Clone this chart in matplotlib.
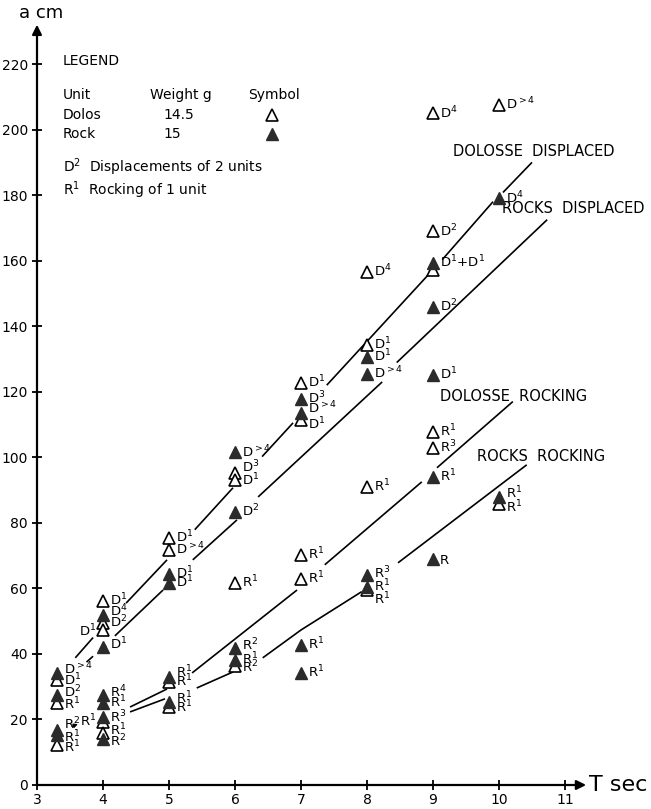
import matplotlib
matplotlib.use('Agg')
import matplotlib.pyplot as plt
import numpy as np

plt.rcParams['font.family'] = ['DejaVu Sans']
plt.rcParams['mathtext.fontset'] = 'dejavusans'

nan = np.nan

# ---------------- data ----------------
# Dolos (open triangles)
dolos_T = [3.3, 3.3, 3.3,
           4, 4, 4, 4, 4,
           5, 5, 5, 5,
           6, 6, 6, 6,
           7, 7, 7, 7,
           8, 8, 8, 8,
           9, 9, 9, 9, 9,
           10, 10]
dolos_a = [32, 25, 12.2,
           56.2, 49.5, 47.3, 19.3, 16,
           75.4, 71.8, 31.5, 23.8,
           95.2, 93, 61.7, 36.3,
           122.7, 111.5, 70.2, 62.9,
           156.6, 134.4, 91, 59.5,
           205, 168.9, 157.3, 107.8, 102.9,
           207.5, 85.8]
dolos_lab = ['D1', 'R1', 'R1',
             'D1', 'D2', 'D1', 'R1', 'R1',
             'D1', 'D>4', 'R1', 'R1',
             'D3', 'D1', 'R1', 'R2',
             'D1', 'D1', 'R1', 'R1',
             'D4', 'D1', 'R1', 'R1',
             'D4', 'D2', '', 'R1', 'R3',
             'D>4', 'R1']

# Rock (filled triangles)
rock_T = [3.3, 3.3, 3.3, 3.3,
          4, 4, 4, 4, 4, 4,
          5, 5, 5, 5,
          6, 6, 6, 6,
          7, 7, 7, 7,
          8, 8, 8, 8,
          9, 9, 9, 9, 9,
          10, 10]
rock_a = [34.2, 27.5, 16.8, 15.3,
          52, 42, 27.5, 25, 20.8, 14,
          64.5, 61.7, 33, 25.3,
          101.5, 83.4, 41.8, 38.2,
          117.9, 113.6, 42.7, 34.2,
          130.7, 125.5, 64.1, 60.5,
          159.4, 146, 125.2, 94, 69,
          179, 88]
rock_lab = ['D>4', 'D2', 'R2', 'R1',
            'D4', 'D1', 'R4', 'R1', 'R3', 'R2',
            'D1', 'D1', 'R1', 'R1',
            'D>4', 'D2', 'R2', 'R1',
            'D3', 'D>4', 'R1', 'R1',
            'D1', 'D>4', 'R3', 'R1',
            'D1+D1', 'D2', 'D1', 'R1', 'R',
            'D4', 'R1']

# fitted curves (NaN = break in the drawn line)
dd_T = [3.58, 3.85, nan, 4.35, 4.97, nan, 5.39, 5.97, nan, 6.41, 6.88, nan,
        7.39, 8.92, nan, 9.14, 9.91, nan, 10.06, 10.5]
dd_a = [38.8, 45, nan, 55.5, 68.7, nan, 77.9, 90.7, nan, 100.2, 110.5, nan,
        122, 155.5, nan, 160.3, 178, nan, 180.8, 190]

rd_T = [3.75, 3.85, nan, 3.93, 4.05, nan, 4.18, 4.91, nan, 5.36, 6.03, nan,
        6.35, 8.23, nan, 8.45, 10.73]
rd_a = [37.5, 39.3, nan, 40.5, 42.5, nan, 45.5, 59.5, nan, 68.7, 80.9, nan,
        87.9, 123, nan, 128.9, 172.5]

dr_T = [4.41, 4.97, nan, 5.35, 6.94, nan, 7.36, 8.83, nan, 9.06, 10.21]
dr_a = [23.8, 29.3, nan, 34.2, 59.5, nan, 67.2, 92.5, nan, 96.8, 117]

rr_T = [4.41, 4.94, nan, 5.42, 5.97, nan, 6.42, 7.0, 7.92, nan, 8.47, 10.42]
rr_a = [22.3, 26.3, nan, 29.6, 34.5, nan, 38.8, 47.3, 59, nan, 67.8, 97.7]

curve_names = ['DOLOSSE  DISPLACED', 'ROCKS  DISPLACED', 'DOLOSSE  ROCKING', 'ROCKS  ROCKING']
curve_name_pos = [(9.30, 193.2), (10.05, 175.8), (9.11, 118.4), (9.67, 100.1)]

x_ticks = [3, 4, 5, 6, 7, 8, 9, 10, 11]
y_ticks = list(range(0, 221, 20))

# labels placed to the left of marker
left_labels = {('dolos', 5), ('dolos', 6)}
# small vertical nudges of labels (data units)
label_dy = {('rock', 0): 1.0, ('rock', 1): 0.7, ('dolos', 1): -0.5,
            ('rock', 2): 1.5, ('rock', 3): -0.9, ('dolos', 2): -0.8,
            ('rock', 4): 0.8, ('dolos', 5): -0.6, ('rock', 5): 0.7,
            ('rock', 6): 0.6, ('rock', 8): -0.2, ('dolos', 7): 0.6, ('rock', 9): -0.6,
            ('dolos', 12): 1.8, ('rock', 19): 1.4, ('dolos', 17): -1.5,
            ('dolos', 23): -3.0, ('rock', 12): 1.2, ('rock', 13): 1.2,
            ('dolos', 11): -0.3, ('rock', 16): 0.6, ('dolos', 15): -0.6,
            ('rock', 32): 0.8, ('dolos', 30): -1.2, ('rock', 24): 0.3}

# ---------------- figure ----------------
fig = plt.figure(figsize=(6.51, 8.09), dpi=100)
ax = fig.add_axes([37 / 651, 24 / 809, 547.8 / 651, 760.3 / 809])
ax.set_xlim(3, 11.3)
ax.set_ylim(0, 232)
for s in ax.spines.values():
    s.set_visible(False)

ax.set_xticks(x_ticks)
ax.set_yticks(y_ticks)
ax.tick_params(direction='inout', length=7, width=1.3, labelsize=10, pad=3)
ax.tick_params(axis='x', pad=2)

arrow_kw = dict(arrowstyle='-|>', lw=1.6, color='k', mutation_scale=14,
                shrinkA=0, shrinkB=0)
ax.annotate('', xy=(11.32, 0), xytext=(3, 0), arrowprops=arrow_kw,
            annotation_clip=False)
ax.annotate('', xy=(3, 232), xytext=(3, 0), arrowprops=arrow_kw,
            annotation_clip=False)
ax.text(3.07, 235.5, 'a cm', fontsize=13, ha='center', va='center', clip_on=False)
ax.text(11.36, 0, 'T sec', fontsize=16, ha='left', va='center', clip_on=False)

# curves
for cx, cy in [(dd_T, dd_a), (rd_T, rd_a), (dr_T, dr_a), (rr_T, rr_a)]:
    ax.plot(cx, cy, color='k', lw=1.2, zorder=2, solid_capstyle='butt')

for name, (tx, ty) in zip(curve_names, curve_name_pos):
    ax.text(tx, ty, name, fontsize=10.5, ha='left', va='center', clip_on=False)

# markers
ms = 8.5
ax.plot(dolos_T, dolos_a, linestyle='none', marker='^', ms=ms, mfc='white',
        mec='k', mew=1.2, zorder=4)
ax.plot(rock_T, rock_a, linestyle='none', marker='^', ms=ms, mfc='#2b2b2b',
        mec='#2b2b2b', mew=1.0, zorder=5)


def fmt(lab):
    if lab == '':
        return ''
    if lab == 'D1+D1':
        return r'D$^{1}$+D$^{1}$'
    if len(lab) == 1:
        return lab
    return lab[0] + r'$^{' + lab[1:] + '}$'


lab_fs = 9.5
for series, xs, ys, labs in [('dolos', dolos_T, dolos_a, dolos_lab),
                             ('rock', rock_T, rock_a, rock_lab)]:
    for i, (x, y, lab) in enumerate(zip(xs, ys, labs)):
        if not lab:
            continue
        dy = label_dy.get((series, i), 0)
        if (series, i) in left_labels:
            ax.annotate(fmt(lab), (x, y + dy), xytext=(-5, -3.4),
                        textcoords='offset points', ha='right', va='baseline',
                        fontsize=lab_fs, zorder=6)
        else:
            ax.annotate(fmt(lab), (x, y + dy), xytext=(5, -3.4),
                        textcoords='offset points', ha='left', va='baseline',
                        fontsize=lab_fs, zorder=6)

# small pointer from the R2 label at T=3.3
ax.annotate('', xy=(3.62, 18.6), xytext=(3.53, 17.9),
            arrowprops=dict(arrowstyle='-|>', lw=0.9, color='k',
                            mutation_scale=6, shrinkA=0, shrinkB=0))

# legend block
leg_fs = 10
ax.text(3.39, 220.9, 'LEGEND', fontsize=leg_fs, va='center')
ax.text(3.39, 210.6, 'Unit', fontsize=leg_fs, va='center')
ax.text(4.71, 210.6, 'Weight g', fontsize=leg_fs, va='center')
ax.text(6.20, 210.6, 'Symbol', fontsize=leg_fs, va='center')
ax.text(3.39, 204.5, 'Dolos', fontsize=leg_fs, va='center')
ax.text(4.91, 204.5, '14.5', fontsize=leg_fs, va='center')
ax.text(3.39, 198.7, 'Rock', fontsize=leg_fs, va='center')
ax.text(4.91, 198.7, '15', fontsize=leg_fs, va='center')
ax.plot([6.56], [204.5], linestyle='none', marker='^', ms=ms, mfc='white',
        mec='k', mew=1.2)
ax.plot([6.56], [198.7], linestyle='none', marker='^', ms=ms, mfc='#2b2b2b',
        mec='#2b2b2b')
ax.text(3.39, 188.6, r'D$^{2}$  Displacements of 2 units', fontsize=leg_fs, va='center')
ax.text(3.39, 181.6, r'R$^{1}$  Rocking of 1 unit', fontsize=leg_fs, va='center')

fig.savefig('out.png', dpi=100)
